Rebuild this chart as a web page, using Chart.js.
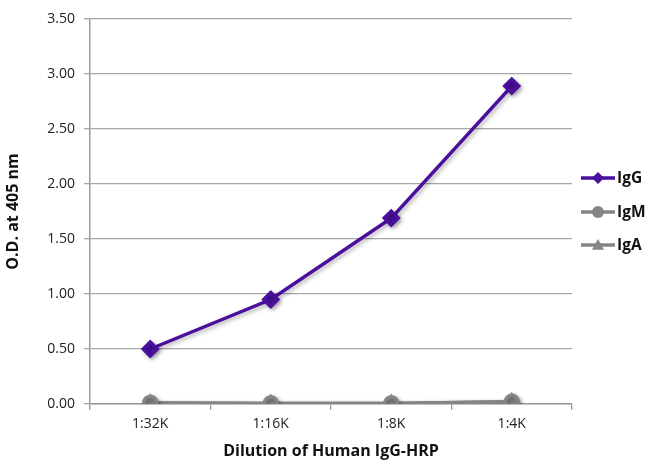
<!DOCTYPE html>
<html><head><meta charset="utf-8">
<script src="https://cdn.jsdelivr.net/npm/chart.js@4"></script>
<style>html,body{margin:0;padding:0;background:#fff}#wrap{width:652px;height:469px}</style>
</head><body><div id="wrap"><canvas id="c"></canvas></div>
<script>
const categories = ['1:32K','1:16K','1:8K','1:4K'];
const igG = [0.50, 0.95, 1.69, 2.89];
const igM = [0.01, 0.005, 0.005, 0.02];
const igA = [0.01, 0.005, 0.005, 0.02];
const yTicks = [0,0.5,1,1.5,2,2.5,3,3.5];

const PURPLE = '#4b0f9e', GRAY = '#858585';
const FONT = "'Open Sans', sans-serif";

function drawMarker(ctx, style, x, y, r){
  ctx.beginPath();
  if(style==='rectRot'){ ctx.moveTo(x,y-r); ctx.lineTo(x+r,y); ctx.lineTo(x,y+r); ctx.lineTo(x-r,y); ctx.closePath(); }
  else if(style==='circle'){ ctx.arc(x,y,r,0,Math.PI*2); }
  else { ctx.moveTo(x,y-r); ctx.lineTo(x+r,y+r*0.8); ctx.lineTo(x-r,y+r*0.8); ctx.closePath(); }
  ctx.fill();
}
const customLegend = {
  id:'customLegend',
  afterDraw(ch){
    const ctx = ch.ctx; ctx.save();
    const ys = [178, 212, 245];
    ch.data.datasets.forEach((d,i)=>{
      const y = ys[i];
      ctx.strokeStyle = d.borderColor; ctx.fillStyle = d.borderColor; ctx.lineWidth = 3.5;
      ctx.beginPath(); ctx.moveTo(581,y); ctx.lineTo(615,y); ctx.stroke();
      drawMarker(ctx, d.pointStyle, 598, y, 6);
      ctx.fillStyle = '#111'; ctx.font = "bold 15.5px " + FONT;
      ctx.textBaseline = 'middle'; ctx.textAlign = 'left';
      ctx.fillText(d.label, 617, y+1);
    });
    ctx.restore();
  }
};
const shadow = {
  id:'shadow',
  beforeDatasetsDraw(ch){ const c=ch.ctx; c.save(); c.shadowColor='rgba(0,0,0,0.3)'; c.shadowBlur=4; c.shadowOffsetX=2; c.shadowOffsetY=2; },
  afterDatasetsDraw(ch){ ch.ctx.restore(); }
};
new Chart(document.getElementById('c'), {
  type:'line',
  data:{ labels:categories, datasets:[
    {label:'IgG', data:igG, borderColor:PURPLE, backgroundColor:PURPLE, borderWidth:3.5, pointStyle:'rectRot', pointRadius:7, pointHoverRadius:7},
    {label:'IgM', data:igM, borderColor:GRAY, backgroundColor:GRAY, borderWidth:3.5, pointStyle:'circle', pointRadius:6.5},
    {label:'IgA', data:igA, borderColor:GRAY, backgroundColor:GRAY, borderWidth:3.5, pointStyle:'triangle', pointRadius:6.5}
  ]},
  options:{
    responsive:true, maintainAspectRatio:false, animation:false,
    layout:{padding:{left:0,right:80,top:19,bottom:0}},
    plugins:{ legend:{display:false}, tooltip:{enabled:false} },
    scales:{
      x:{ offset:true,
        afterFit(s){ s.height = 65; },
        grid:{display:true, offset:true, drawOnChartArea:false, color:'#999', tickLength:6, lineWidth:1.3},
        border:{color:'#999', width:1.5},
        ticks:{color:'#222', font:{family:FONT, size:14}, padding:6},
        title:{display:true, text:'Dilution of Human IgG-HRP', color:'#111', font:{family:FONT, weight:'bold', size:16}, padding:{top:0,bottom:8}}
      },
      y:{ min:0, max:3.5,
        afterFit(s){ s.width = 90; },
        afterBuildTicks(s){ s.ticks = yTicks.map(v=>({value:v})); },
        grid:{color:'#a6a6a6', tickLength:6, lineWidth:1.3},
        border:{color:'#999', width:1.5},
        ticks:{color:'#222', font:{family:FONT, size:14}, padding:9, callback:v=>v.toFixed(2)},
        title:{display:true, text:'O.D. at 405 nm', color:'#111', font:{family:FONT, weight:'bold', size:16}, padding:{top:4,bottom:0}}
      }
    }
  },
  plugins:[shadow, customLegend]
});
</script></body></html>
